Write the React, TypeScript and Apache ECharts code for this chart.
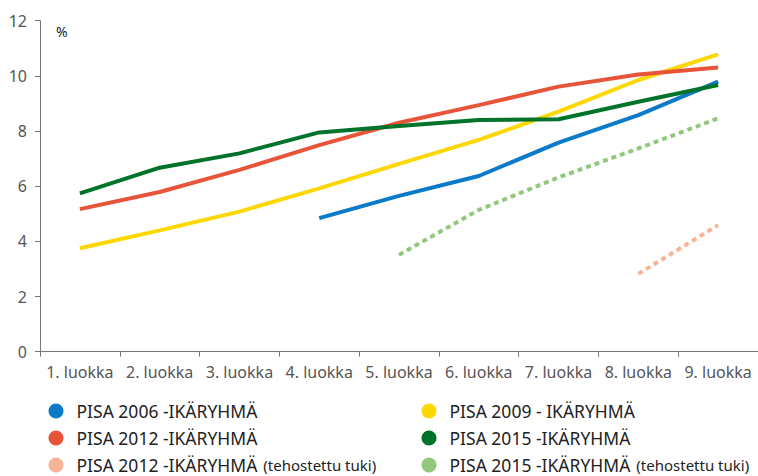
import React, { useEffect, useRef } from "react";
import * as echarts from "echarts";

const categories = [
  "1. luokka", "2. luokka", "3. luokka", "4. luokka", "5. luokka",
  "6. luokka", "7. luokka", "8. luokka", "9. luokka",
];

const pisa2006 = [null, null, null, 4.84, 5.65, 6.37, 7.58, 8.58, 9.79];
const pisa2009 = [3.75, 4.4, 5.08, 5.92, 6.81, 7.68, 8.7, 9.85, 10.78];
const pisa2012 = [5.17, 5.79, 6.59, 7.49, 8.3, 8.94, 9.61, 10.05, 10.3];
const pisa2015 = [5.74, 6.67, 7.19, 7.95, 8.18, 8.4, 8.43, 9.06, 9.67];
const pisa2012Tuki = [null, null, null, null, null, null, null, 2.82, 4.59];
const pisa2015Tuki = [null, null, null, null, 3.51, 5.14, 6.32, 7.37, 8.46];

const yTicks = { min: 0, max: 12, interval: 2 };

const N2006 = "PISA 2006 -IKÄRYHMÄ";
const N2009 = "PISA 2009 - IKÄRYHMÄ";
const N2012 = "PISA 2012 -IKÄRYHMÄ";
const N2015 = "PISA 2015 -IKÄRYHMÄ";
const N2012T = "PISA 2012 -IKÄRYHMÄ (tehostettu tuki)";
const N2015T = "PISA 2015 -IKÄRYHMÄ (tehostettu tuki)";

const FONT = "'Noto Sans', 'Open Sans', sans-serif";

export default function App() {
  const ref = useRef<HTMLDivElement>(null);

  useEffect(() => {
    document.body.style.margin = "0";
    if (!ref.current) return;
    const chart = echarts.init(ref.current, null, { renderer: "svg" });

    const line = (name: string, data: (number | null)[], color: string, dashed = false) => ({
      name,
      type: "line",
      data,
      color,
      symbol: "none",
      connectNulls: false,
      lineStyle: { width: 4, color, type: dashed ? [5, 4] : "solid", cap: "butt" },
      itemStyle: { color },
    });

    const legendFormatter = (name: string) => {
      const suffix = " (tehostettu tuki)";
      if (name.endsWith(suffix)) {
        return `{m|${name.slice(0, -suffix.length)}}{s|(tehostettu tuki)}`;
      }
      return `{m|${name}}`;
    };

    const legendBase = {
      orient: "vertical",
      icon: "circle",
      padding: 0,
      itemWidth: 15,
      itemHeight: 15,
      itemGap: 7,
      height: 90,
      itemStyle: { borderWidth: 0 },
      formatter: legendFormatter,
      textStyle: {
        fontFamily: FONT,
        color: "#222",
        lineHeight: 20,
        rich: {
          m: { fontSize: 17.5, fontFamily: FONT, color: "#222", lineHeight: 20, verticalAlign: "middle", padding: [0, 6, 0, 8] },
          s: { fontSize: 15, fontFamily: FONT, color: "#222", lineHeight: 20, verticalAlign: "middle" },
        },
      },
    };

    chart.setOption({
      animation: false,
      grid: { left: 40, right: -6, top: 20.7, bottom: 124.3, containLabel: false },
      legend: [
        { ...legendBase, left: 48.5, top: 401, data: [N2006, N2012, N2012T] },
        { ...legendBase, left: 421.5, top: 401, data: [N2009, N2015, N2015T] },
      ],
      graphic: [
        {
          type: "text",
          left: 56,
          top: 24,
          style: { text: "%", fontSize: 14, fontFamily: FONT, fill: "#222" },
        },
      ],
      xAxis: {
        type: "category",
        data: categories,
        boundaryGap: true,
        axisLine: { lineStyle: { color: "#777", width: 1 } },
        axisTick: { show: true, length: 5, lineStyle: { color: "#777" } },
        axisLabel: { color: "#555", fontSize: 16, fontFamily: FONT, margin: 12, interval: 0 },
        splitLine: { show: false },
      },
      yAxis: {
        type: "value",
        min: yTicks.min,
        max: yTicks.max,
        interval: yTicks.interval,
        axisLine: { show: true, lineStyle: { color: "#777", width: 1 } },
        axisTick: { show: true, length: 5, lineStyle: { color: "#777" } },
        axisLabel: { color: "#555", fontSize: 16, fontFamily: FONT, margin: 13 },
        splitLine: { show: false },
      },
      series: [
        line(N2006, pisa2006, "#0a7ac9"),
        line(N2009, pisa2009, "#fdd800"),
        line(N2012, pisa2012, "#e8543a"),
        line(N2015, pisa2015, "#00732a"),
        line(N2012T, pisa2012Tuki, "#f8b496", true),
        line(N2015T, pisa2015Tuki, "#91c87c", true),
      ],
    });

    return () => chart.dispose();
  }, []);

  return <div ref={ref} style={{ width: 758, height: 476 }} />;
}
